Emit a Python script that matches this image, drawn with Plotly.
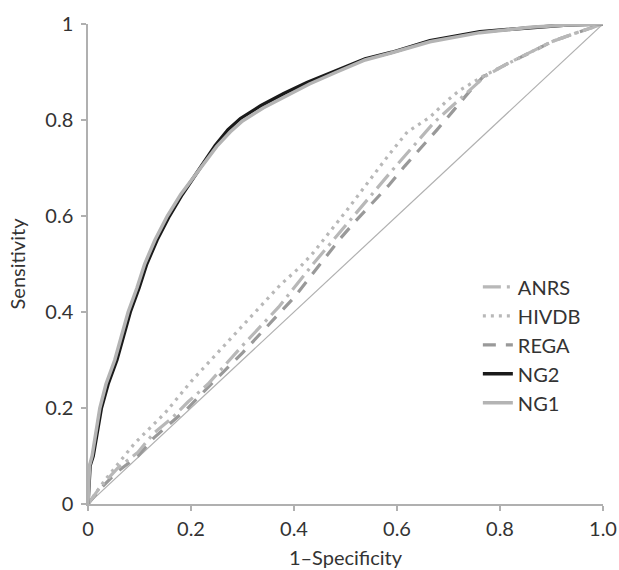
import plotly.graph_objects as go

# ---- data ----
anrs_x = [0, 0.025, 0.058, 0.097, 0.128, 0.163, 0.194, 0.233, 0.3, 0.37, 0.437, 0.514, 0.593, 0.672, 0.73, 0.77, 0.81, 0.858, 0.9, 0.944, 1]
anrs_y = [0, 0.037, 0.075, 0.108, 0.148, 0.179, 0.2125, 0.25, 0.33, 0.41, 0.5, 0.598, 0.698, 0.795, 0.85, 0.89, 0.915, 0.94, 0.963, 0.98, 1]

hivdb_x = [0, 0.033, 0.091, 0.15, 0.2, 0.3, 0.373, 0.412, 0.437, 0.503, 0.586, 0.62, 0.664, 0.697, 0.722, 0.77, 0.81, 0.858, 0.9, 0.944, 1]
hivdb_y = [0, 0.05, 0.127, 0.19, 0.255, 0.37, 0.456, 0.494, 0.523, 0.6125, 0.73, 0.775, 0.806, 0.84, 0.862, 0.893, 0.915, 0.94, 0.963, 0.98, 1]

rega_x = [0, 0.025, 0.058, 0.097, 0.128, 0.163, 0.194, 0.233, 0.3, 0.4, 0.459, 0.489, 0.52, 0.553, 0.585, 0.615, 0.648, 0.678, 0.709, 0.738, 0.767, 0.81, 0.858, 0.9, 0.944, 1]
rega_y = [0, 0.033, 0.068, 0.1, 0.138, 0.17, 0.2, 0.243, 0.315, 0.43, 0.51, 0.552, 0.59, 0.628, 0.665, 0.704, 0.743, 0.78, 0.819, 0.856, 0.89, 0.915, 0.94, 0.963, 0.98, 1]

ng1_x = [0, 0.003, 0.008, 0.015, 0.023, 0.035, 0.052, 0.065, 0.078, 0.095, 0.11, 0.13, 0.154, 0.18, 0.205, 0.227, 0.25, 0.276, 0.30, 0.34, 0.386, 0.43, 0.483, 0.538, 0.59, 0.664, 0.761, 0.858, 0.93, 1]
ng1_y = [0, 0.08, 0.1, 0.15, 0.2, 0.25, 0.3, 0.35, 0.4, 0.45, 0.5, 0.55, 0.6, 0.645, 0.68, 0.71, 0.745, 0.775, 0.798, 0.825, 0.85, 0.875, 0.9, 0.925, 0.94, 0.963, 0.982, 0.993, 0.998, 1]

ng2_x = [0, 0.004, 0.01, 0.018, 0.026, 0.039, 0.056, 0.069, 0.082, 0.099, 0.114, 0.134, 0.158, 0.183, 0.205, 0.225, 0.247, 0.272, 0.296, 0.336, 0.38, 0.425, 0.48, 0.538, 0.59, 0.664, 0.761, 0.858, 0.93, 1]
ng2_y = [0, 0.08, 0.1, 0.15, 0.2, 0.25, 0.3, 0.35, 0.4, 0.45, 0.5, 0.55, 0.6, 0.645, 0.68, 0.71, 0.747, 0.78, 0.803, 0.83, 0.855, 0.878, 0.902, 0.927, 0.941, 0.965, 0.984, 0.993, 0.998, 1]

diag_x = [0, 1]
diag_y = [0, 1]

x_tickvals = [0, 0.2, 0.4, 0.6, 0.8, 1.0]
x_ticktext = ["0", "0.2", "0.4", "0.6", "0.8", "1.0"]
y_tickvals = [0, 0.2, 0.4, 0.6, 0.8, 1.0]
y_ticktext = ["0", "0.2", "0.4", "0.6", "0.8", "1"]

FONT = "Lato"
TXT = "#333333"
AX = "#b0b0b0"
FS = 20

fig = go.Figure()

fig.add_trace(go.Scatter(x=diag_x, y=diag_y, mode="lines", showlegend=False,
                         line=dict(color="#b0b0b0", width=1.2), hoverinfo="skip"))

fig.add_trace(go.Scatter(x=rega_x, y=rega_y, mode="lines", name="REGA", legendrank=3, legendgroup="c",
                         line=dict(color="#999999", width=3.2, dash="13px,10px")))
fig.add_trace(go.Scatter(x=hivdb_x, y=hivdb_y, mode="lines", name="HIVDB", legendrank=2, legendgroup="b",
                         line=dict(color="#b8b8b8", width=3.2, dash="3px,5px")))
fig.add_trace(go.Scatter(x=anrs_x, y=anrs_y, mode="lines", name="ANRS", legendrank=1, legendgroup="a",
                         line=dict(color="#b8b8b8", width=3.2, dash="18px,6px,3px,6px")))
fig.add_trace(go.Scatter(x=ng2_x, y=ng2_y, mode="lines", name="NG2", legendrank=4, legendgroup="d",
                         line=dict(color="#1a1a1a", width=3.5)))
fig.add_trace(go.Scatter(x=ng1_x, y=ng1_y, mode="lines", name="NG1", legendrank=5, legendgroup="e",
                         line=dict(color="#b4b4b4", width=3.5)))

fig.update_layout(
    width=619, height=570,
    margin=dict(l=88, r=16, t=24, b=66),
    paper_bgcolor="white", plot_bgcolor="white",
    font=dict(family=FONT, size=FS, color=TXT),
    legend=dict(x=0.757, y=0.493, xanchor="left", yanchor="top",
                font=dict(family=FONT, size=FS, color=TXT),
                bgcolor="rgba(0,0,0,0)", tracegroupgap=0, traceorder="grouped"),
    xaxis=dict(range=[0, 1], tickvals=x_tickvals, ticktext=x_ticktext, automargin=False,
               showgrid=False, zeroline=False, showline=True, linecolor=AX, linewidth=1.5,
               ticks="outside", ticklen=5, tickcolor=AX, tickwidth=1.5, ticklabeloverflow="allow",
               title=dict(text="1–Specificity", font=dict(family=FONT, size=FS, color=TXT), standoff=12),
               ticklabelstandoff=1),
    yaxis=dict(range=[0, 1], tickvals=y_tickvals, ticktext=y_ticktext, automargin=False,
               showgrid=False, zeroline=False, showline=True, linecolor=AX, linewidth=1.5,
               ticks="outside", ticklen=5, tickcolor=AX, tickwidth=1.5,
               title=dict(text="Sensitivity", font=dict(family=FONT, size=FS, color=TXT), standoff=14),
               ticklabelstandoff=4),
)

# remove the page's default body margin so the 619x570 figure fills the window exactly
fig.write_html("out.html", config={"displayModeBar": False},
               post_script="document.body.style.margin='0';document.body.style.overflow='hidden';")
